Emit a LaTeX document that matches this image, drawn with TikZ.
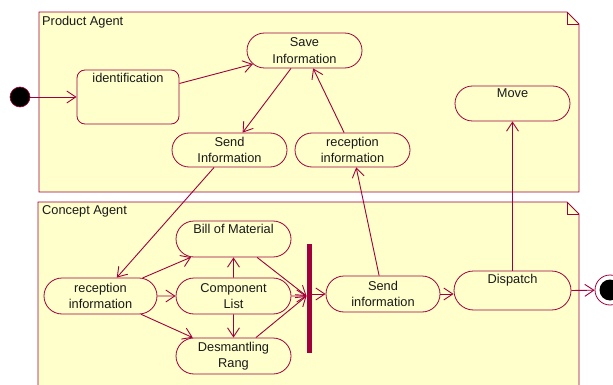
\documentclass[tikz,border=0pt]{standalone}
\usepackage{fontspec}
\setmainfont{Liberation Sans}
\usetikzlibrary{arrows.meta,shapes.misc}
\definecolor{umlred}{RGB}{160,0,60}
\definecolor{umlfill}{RGB}{255,255,204}
\definecolor{txtc}{RGB}{25,25,25}
\begin{document}
\begin{tikzpicture}[x=1pt,y=-1pt,
  lbl/.style={font=\fontsize{12.8}{16.5}\selectfont, text=txtc, inner sep=0pt, align=center},
  act/.style={rounded rectangle, draw=umlred, fill=umlfill, line width=0.8pt, inner sep=0pt, lbl},
  frame/.style={draw=umlred, fill=umlfill, line width=0.9pt, line join=miter},
  arr/.style={draw=umlred, line width=0.9pt, -{Straight Barb[length=9pt,width=12pt,line width=0.9pt]}},
  plain/.style={draw=umlred, line width=0.9pt}
]
\useasboundingbox (0,0) rectangle (613,385);
% frames
\path[frame] (39,12) -- (567,12) -- (579,24) -- (579,192) -- (39,192) -- cycle;
\draw[plain] (567,12) -- (567,24) -- (579,24);
\node[lbl, anchor=west] (pa) at (42,22) {Product Agent};
\path[frame] (38,202) -- (567,202) -- (579,214) -- (579,400) -- (38,400) -- cycle;
\draw[plain] (567,202) -- (567,214) -- (579,214);
\node[lbl, anchor=west] (ca) at (42,211) {Concept Agent};

% product agent nodes
\node[circle, fill=black, draw=umlred, line width=0.6pt, minimum size=20pt, inner sep=0pt] (init) at (20,97) {};
\node[rectangle, rounded corners=8pt, draw=umlred, fill=umlfill, line width=0.8pt, minimum width=102pt, minimum height=54pt, inner sep=0pt] (ident) at (128,97) {};
\node[lbl, anchor=north] (identt) at ([yshift=-3pt]ident.north) {identification};
\node[act, minimum width=115pt, minimum height=35pt] (save) at (304.5,50.5) {Save\\Information};
\node[act, minimum width=115pt, minimum height=34pt] (sendP) at (229.5,150) {Send\\Information};
\node[act, minimum width=115pt, minimum height=34pt] (recP) at (352.5,150) {reception\\information};
\node[act, minimum width=115pt, minimum height=35pt] (move) at (512.5,103.5) {};
\node[lbl, anchor=north] (movet) at ([yshift=-3pt]move.north) {Move};

% concept agent nodes
\node[act, minimum width=113pt, minimum height=36pt] (recC) at (100.5,296) {reception\\information};
\node[act, minimum width=115pt, minimum height=36pt] (bill) at (233.5,239) {};
\node[lbl, anchor=north] (billt) at ([yshift=-3pt]bill.north) {Bill of Material};
\node[act, minimum width=115pt, minimum height=36pt] (comp) at (233.5,296) {Component\\List};
\node[act, minimum width=115pt, minimum height=36pt] (desm) at (233.5,356) {Desmantling\\Rang};
\node[rectangle, fill=umlred, minimum width=5.5pt, minimum height=109pt, inner sep=0pt] (bar) at (309.5,298.5) {};
\node[act, minimum width=114pt, minimum height=36pt] (sendC) at (383,294) {Send\\information};
\node[act, minimum width=117pt, minimum height=39pt] (disp) at (512.5,290.5) {};
\node[lbl, anchor=north] (dispt) at ([yshift=-3pt]disp.north) {Dispatch};
\node[circle, fill=white, draw=umlred, line width=0.8pt, minimum size=30pt, inner sep=0pt] (final) at (610,290) {};
\node[circle, fill=black, minimum size=21pt, inner sep=0pt] (finalin) at (610,290) {};

% connectors
\draw[arr] (init) -- (ident);
\draw[arr] (ident) -- (save);
\draw[arr] (save) -- (sendP);
\draw[arr] (recP) -- (save);
\draw[arr] (sendP) -- (recC);
\draw[arr] (sendC) -- (recP);
\draw[arr] (disp.north) -- (move.south);
\draw[arr] (recC) -- (bill);
\draw[arr] (recC) -- (comp);
\draw[arr] (recC) -- (desm);
\draw[arr] (comp) -- (bill);
\draw[arr] (comp) -- (desm);
\draw[arr] (bill) -- (bar.west |- comp);
\draw[arr] (comp) -- (bar.west |- comp);
\draw[arr] (desm) -- (bar.west |- comp);
\draw[arr] (bar.east |- sendC.west) -- (sendC.west);
\draw[arr] (sendC.east) -- (disp.west |- sendC.east);
\draw[arr] (disp.east) -- (final);
\end{tikzpicture}
\end{document}
